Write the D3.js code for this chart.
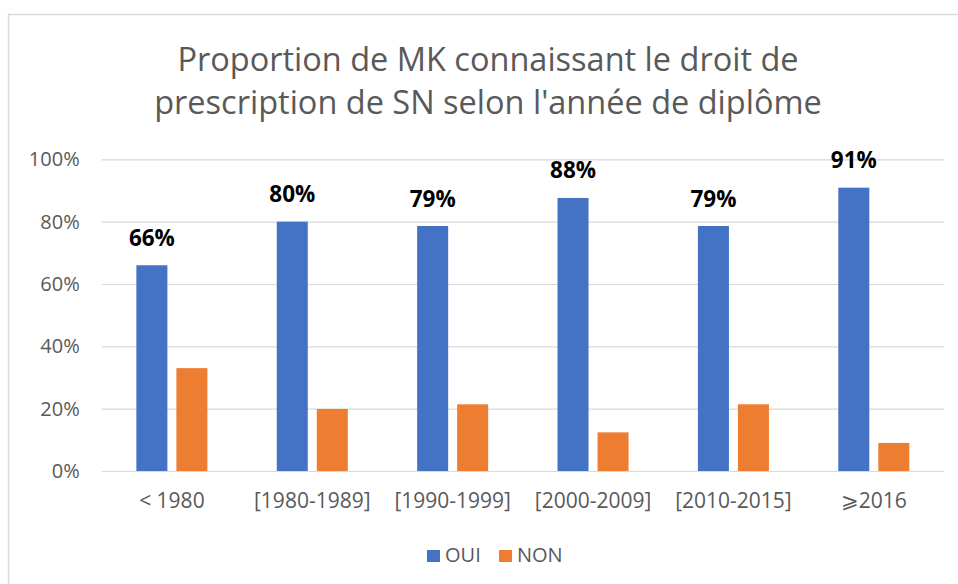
<!DOCTYPE html>
<html>
<head>
<meta charset="utf-8">
<script src="https://cdn.jsdelivr.net/npm/d3@7"></script>
<style>
  body { margin: 0; background: #fff; }
</style>
</head>
<body>
<div id="chart"></div>
<script>
// values
const categories = ["< 1980", "[1980-1989]", "[1990-1999]", "[2000-2009]", "[2010-2015]", "\u2A7E2016"];
const series = ["OUI", "NON"];
const oui = [0.66, 0.80, 0.786, 0.876, 0.786, 0.909];
const non = [0.33, 0.199, 0.214, 0.124, 0.214, 0.09];
const yTicks = [0, 0.2, 0.4, 0.6, 0.8, 1];
const titleLines = ["Proportion de MK connaissant le droit de", "prescription de SN selon l'année de diplôme"];

const width = 958;
const height = 584;
const font = "'Open Sans', 'Liberation Sans', sans-serif";
const grey = "#595959";
const color = d3.scaleOrdinal(series, ["#4472C4", "#ED7D31"]);
const pct = d3.format(".0%");

// one row per category with both series values
const rows = categories.map((c, i) => ({cat: c, OUI: oui[i], NON: non[i]}));

const svg = d3.select("#chart").append("svg")
    .attr("width", width)
    .attr("height", height)
    .attr("font-family", font);

// chart frame, runs off the right and bottom edges like the original
svg.append("rect")
    .attr("x", 8.5).attr("y", 14.5)
    .attr("width", 1000).attr("height", 1000)
    .attr("fill", "none")
    .attr("stroke", "#d9d9d9")
    .attr("stroke-width", 1.5);

const x0 = d3.scaleBand(categories, [101.7, 944])
    .paddingInner(0.494)
    .paddingOuter(0.247);
const x1 = d3.scaleBand(series, [0, x0.bandwidth()])
    .paddingInner(0.225);
const y = d3.scaleLinear([0, 1], [471, 159.3]);

// gridlines through the y axis
const yAxis = d3.axisLeft(y)
    .tickValues(yTicks)
    .tickFormat(pct)
    .tickSize(-(944 - 101.7))
    .tickPadding(22);

svg.append("g")
    .attr("transform", "translate(101.7,0)")
    .call(yAxis)
    .call(g => g.select(".domain").remove())
    .call(g => g.selectAll(".tick line").attr("stroke", "#d9d9d9").attr("stroke-width", 1.2))
    .call(g => g.selectAll(".tick text")
        .attr("fill", grey)
        .attr("font-size", 20)
        .attr("font-family", font));

// category labels under the bars
const xAxis = d3.axisBottom(x0).tickSize(0).tickPadding(0);
svg.append("g")
    .attr("transform", "translate(0,471)")
    .call(xAxis)
    .call(g => g.select(".domain").remove())
    .call(g => g.selectAll(".tick text")
        .attr("fill", grey)
        .attr("font-size", 21)
        .attr("font-family", font)
        .attr("dy", null)
        .attr("y", 37));

// grouped bars
const group = svg.append("g")
  .selectAll("g")
  .data(rows)
  .join("g")
    .attr("transform", d => `translate(${x0(d.cat)},0)`);

group.selectAll("rect")
  .data(d => series.map(s => ({key: s, value: d[s]})))
  .join("rect")
    .attr("x", d => x1(d.key))
    .attr("y", d => y(d.value))
    .attr("width", x1.bandwidth())
    .attr("height", d => y(0) - y(d.value))
    .attr("fill", d => color(d.key));

// bold labels over the OUI bars only
group.append("text")
    .attr("x", x1("OUI") + x1.bandwidth() / 2)
    .attr("y", d => y(d.OUI) - 19.5)
    .attr("text-anchor", "middle")
    .attr("font-size", 22.5)
    .attr("font-weight", "bold")
    .attr("fill", "#000")
    .text(d => pct(d.OUI));

// two line title
svg.append("text")
    .attr("text-anchor", "middle")
    .attr("fill", grey)
    .attr("font-size", 32.5)
  .selectAll("tspan")
  .data(titleLines)
  .join("tspan")
    .attr("x", 488)
    .attr("y", (d, i) => 71 + i * 43)
    .text(d => d);

// legend
const legend = svg.append("g")
  .selectAll("g")
  .data(series)
  .join("g")
    .attr("transform", (d, i) => `translate(${427 + i * 72},550)`);

legend.append("rect")
    .attr("width", 13)
    .attr("height", 12)
    .attr("fill", d => color(d));

legend.append("text")
    .attr("x", 18)
    .attr("y", 12)
    .attr("fill", grey)
    .attr("font-size", 20)
    .text(d => d);
</script>
</body>
</html>
